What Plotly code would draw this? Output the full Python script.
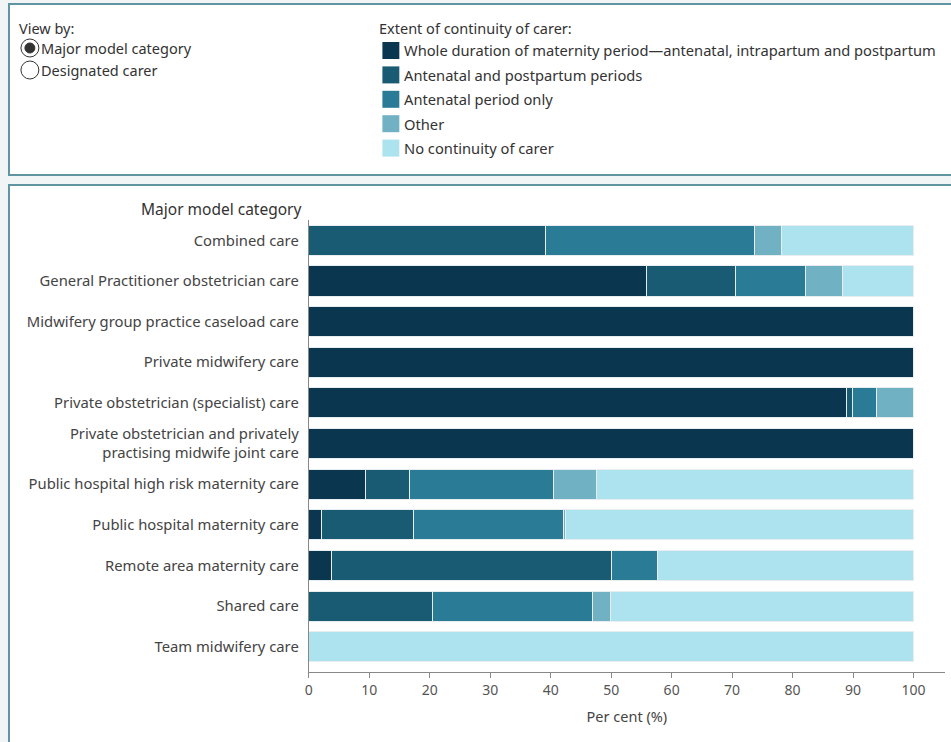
import plotly.graph_objects as go

categories = [
    "Combined care",
    "General Practitioner obstetrician care",
    "Midwifery group practice caseload care",
    "Private midwifery care",
    "Private obstetrician (specialist) care",
    "Private obstetrician and privately<br>practising midwife joint care",
    "Public hospital high risk maternity care",
    "Public hospital maternity care",
    "Remote area maternity care",
    "Shared care",
    "Team midwifery care",
]
series_names = [
    "Whole duration of maternity period\u2014antenatal, intrapartum and postpartum",
    "Antenatal and postpartum periods",
    "Antenatal period only",
    "Other",
    "No continuity of carer",
]
whole = [0, 55.9, 100, 100, 88.9, 100, 9.4, 2.1, 3.8, 0, 0]
ant_post = [39.2, 14.7, 0, 0, 1.0, 0, 7.2, 15.3, 46.3, 20.4, 0]
ant_only = [34.5, 11.6, 0, 0, 4.0, 0, 23.8, 24.8, 7.5, 26.6, 0]
other = [4.4, 6.1, 0, 0, 6.1, 0, 7.1, 0.3, 0, 2.9, 0]
no_cont = [21.9, 11.7, 0, 0, 0, 0, 52.5, 57.5, 42.4, 50.1, 100]
series_values = [whole, ant_post, ant_only, other, no_cont]
colors = ["#0a3650", "#195b73", "#2a7c96", "#70b1c3", "#ade3ee"]
x_ticks = [0, 10, 20, 30, 40, 50, 60, 70, 80, 90, 100]

W, H = 951, 742
FONT = "Noto Sans"

def py(p):
    return 1 - p / H

def px(p):
    return p / W

fig = go.Figure()
for name, vals, col in zip(series_names, series_values, colors):
    fig.add_trace(go.Bar(
        y=categories, x=vals, name=name, orientation="h",
        marker=dict(color=col, line=dict(color="#e8eef0", width=1)),
        showlegend=False,
    ))

shapes = []
annotations = []
border = "#5f95a2"
# panels
shapes.append(dict(type="rect", xref="paper", yref="paper", x0=px(5), x1=px(965),
                   y0=py(4), y1=py(175), fillcolor="white", line=dict(color=border, width=2), layer="below"))
shapes.append(dict(type="rect", xref="paper", yref="paper", x0=px(5), x1=px(965),
                   y0=py(185), y1=py(760), fillcolor="white", line=dict(color=border, width=2), layer="below"))

# View by radio group
annotations.append(dict(text="View by:", x=px(13), y=py(28), xref="paper", yref="paper",
                        xanchor="left", yanchor="middle", showarrow=False,
                        font=dict(family=FONT, size=14.5, color="#333")))
radio_labels = ["Major model category", "Designated carer"]
for i, lab in enumerate(radio_labels):
    cy = 48 + i * 22
    shapes.append(dict(type="circle", xref="paper", yref="paper",
                       x0=px(17), x1=px(35), y0=py(cy - 9), y1=py(cy + 9),
                       line=dict(color="#333", width=1), fillcolor="white"))
    if i == 0:
        shapes.append(dict(type="circle", xref="paper", yref="paper",
                           x0=px(21), x1=px(31), y0=py(cy - 5), y1=py(cy + 5),
                           line=dict(color="#333", width=1), fillcolor="#333"))
    annotations.append(dict(text=lab, x=px(35), y=py(cy), xref="paper", yref="paper",
                            xanchor="left", yanchor="middle", showarrow=False,
                            font=dict(family=FONT, size=14.5, color="#333")))

# legend
annotations.append(dict(text="Extent of continuity of carer:", x=px(375), y=py(28), xref="paper", yref="paper",
                        xanchor="left", yanchor="middle", showarrow=False,
                        font=dict(family=FONT, size=14.5, color="#333")))
for i, (name, col) in enumerate(zip(series_names, colors)):
    cy = 50.5 + i * 24.4
    shapes.append(dict(type="rect", xref="paper", yref="paper",
                       x0=px(380), x1=px(397), y0=py(cy - 8.5), y1=py(cy + 8.5),
                       fillcolor=col, line=dict(width=0)))
    annotations.append(dict(text=name, x=px(400), y=py(cy), xref="paper", yref="paper",
                            xanchor="left", yanchor="middle", showarrow=False,
                            font=dict(family=FONT, size=14.7, color="#333")))

# axis header
annotations.append(dict(text="Major model category", x=px(301), y=py(209), xref="paper", yref="paper",
                        xanchor="right", yanchor="middle", showarrow=False,
                        font=dict(family=FONT, size=15.5, color="#333")))

fig.update_layout(
    width=W, height=H, margin=dict(l=0, r=0, t=0, b=0),
    paper_bgcolor="#f2f5f6", plot_bgcolor="rgba(0,0,0,0)",
    barmode="stack", bargap=0.26,
    shapes=shapes, annotations=annotations,
    font=dict(family=FONT, size=14.5, color="#555"),
    xaxis=dict(domain=[px(306), px(945)], range=[0, 105.2], tickvals=x_ticks,
               showgrid=False, zeroline=False, showline=True, linecolor="#888", linewidth=1,
               ticks="outside", ticklen=5, tickcolor="#888",
               tickfont=dict(family=FONT, size=14, color="#555"),
               title=dict(text="Per cent (%)", font=dict(family=FONT, size=14.5, color="#444"), standoff=14),
               anchor="y"),
    yaxis=dict(domain=[py(672), py(220)], range=[10.62, -0.5], type="category",
               showgrid=False, zeroline=False, showline=True, linecolor="#888", linewidth=1,
               ticks="", ticklabelstandoff=6,
               tickfont=dict(family=FONT, size=14.8, color="#444")),
)

fig.write_html("out.html")
